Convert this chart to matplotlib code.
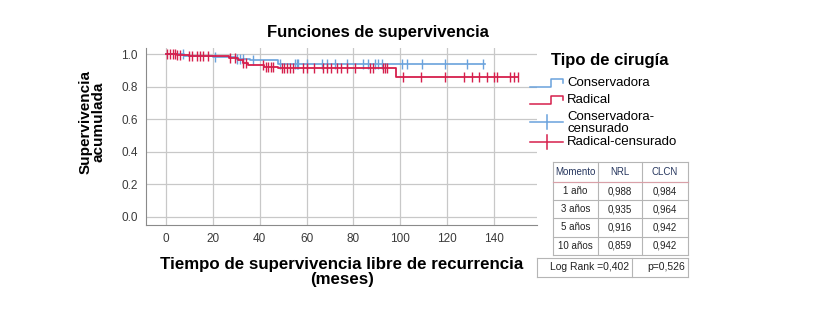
import numpy as np
import matplotlib
matplotlib.use("Agg")
import matplotlib.pyplot as plt
from matplotlib.lines import Line2D

plt.rcParams['font.family'] = ['Liberation Sans', 'DejaVu Sans']

# Kaplan-Meier steps (time in months, cumulative survival)
cons_times = [0, 8, 20, 30, 36, 48, 136]
cons_surv = [1.0, 0.992, 0.984, 0.975, 0.964, 0.942, 0.942]
rad_times = [0, 5, 10, 27, 31, 33, 35, 42, 48, 98, 150]
rad_surv = [1.0, 0.994, 0.988, 0.976, 0.964, 0.950, 0.935, 0.925, 0.916, 0.859, 0.859]

# censored observations
cons_cens = [7.5, 21.0, 30.2, 31.7, 33.1, 37.3, 48.7, 55.1, 55.8, 56.5, 60.1, 66.5,
             68.6, 72.1, 77.1, 84.2, 86.3, 89.2, 90.6, 92.0, 100.5, 102.7, 109.1,
             119.0, 128.2, 135.3]
rad_cens = [0.7, 1.8, 3.0, 4.0, 5.0, 6.1, 10.1, 11.1, 13.2, 14.6, 16.0, 18.2, 27.4,
            29.5, 33.1, 34.2, 41.6, 42.7, 43.7, 44.7, 45.9, 49.4, 50.4, 51.5, 52.9,
            54.1, 58.6, 60.1, 63.2, 66.9, 68.6, 70.3, 72.8, 74.5, 77.4, 80.7, 87.0,
            88.2, 92.4, 93.4, 94.4, 101.2, 108.6, 119.0, 127.1, 130.4, 133.6, 136.8,
            139.9, 141.3, 146.7, 148.4, 150.2]

# summary table
tab_header = ["Momento", "NRL", "CLCN"]
tab_moment = ["1 año", "3 años", "5 años", "10 años"]
tab_nrl = ["0,988", "0,935", "0,916", "0,859"]
tab_clcn = ["0,984", "0,964", "0,942", "0,942"]
logrank_txt = ["Log Rank =0,402", "p=0,526"]

legend_labels = ["Conservadora", "Radical", "Conservadora-\ncensurado", "Radical-censurado"]

BLUE = '#6aa2dc'
RED = '#d61f4c'

W, H = 822, 309
fig = plt.figure(figsize=(8.22, 3.09), dpi=100)


def fx(px):
    return px / W


def fy(py):
    return 1 - py / H


ax = fig.add_axes([fx(146), fy(225), fx(537) - fx(146), fy(48) - fy(225)])


def surv_at(times, surv, t):
    idx = np.searchsorted(times, t, side='right') - 1
    return np.array(surv)[idx]


ax.step(cons_times, cons_surv, where='post', color=BLUE, lw=1.2, zorder=3)
ax.plot(cons_cens, surv_at(cons_times, cons_surv, cons_cens), ls='none', marker='|',
        ms=7, mew=1.0, color=BLUE, zorder=3)
ax.step(rad_times, rad_surv, where='post', color=RED, lw=1.3, zorder=4)
ax.plot(rad_cens, surv_at(rad_times, rad_surv, rad_cens), ls='none', marker='|',
        ms=7, mew=1.0, color=RED, zorder=4)

ax.set_xlim(-8.4, 158.2)
ax.set_ylim(-0.05, 1.04)
ax.set_xticks(np.arange(0, 141, 20))
ax.set_yticks(np.arange(0, 1.01, 0.2))
ax.yaxis.set_major_formatter(matplotlib.ticker.FormatStrFormatter('%.1f'))
ax.grid(True, color='#c8c8c8', lw=0.9)
ax.set_axisbelow(True)
for s in ['top', 'right']:
    ax.spines[s].set_visible(False)
for s in ['left', 'bottom']:
    ax.spines[s].set_color('#8a8a8a')
ax.tick_params(length=0, labelsize=8.5, labelcolor='#3a3a3a', pad=6)

fig.text(fx(378), fy(33), "Funciones de supervivencia", ha='center', va='center',
         fontsize=12, fontweight='bold')
fig.text(fx(92), fy(122), "Supervivencia\nacumulada", ha='center', va='center',
         rotation=90, fontsize=11, fontweight='bold', linespacing=0.95)
fig.text(fx(342), fy(272), "Tiempo de supervivencia libre de recurrencia\n(meses)",
         ha='center', va='center', fontsize=12.2, fontweight='bold', linespacing=0.95)

# legend
fig.text(fx(551), fy(60), "Tipo de cirugía", ha='left', va='center', fontsize=12,
         fontweight='bold')
leg_y = [83, 100, 122, 142]
leg_txt_y = [83, 100, 123, 142]
for i, (lab, col) in enumerate(zip(legend_labels, [BLUE, RED, BLUE, RED])):
    y = leg_y[i]
    if i < 2:
        xs = [530, 551, 551, 563, 563]
        ys = [y + 4, y + 4, y - 4, y - 4, y]
        fig.add_artist(Line2D([fx(v) for v in xs], [fy(v) for v in ys], color=col,
                              lw=1.1, transform=fig.transFigure))
    else:
        fig.add_artist(Line2D([fx(530), fx(563)], [fy(y), fy(y)], color=col, lw=1.1,
                              transform=fig.transFigure))
        fig.add_artist(Line2D([fx(547), fx(547)], [fy(y - 7), fy(y + 7)], color=col,
                              lw=1.1, transform=fig.transFigure))
    fig.text(fx(567), fy(leg_txt_y[i]), lab, ha='left', va='center', fontsize=9.5,
             linespacing=0.9)

# table
col_x = [553, 598, 642, 688]
row_y = [162, 182, 200, 218, 237, 255]
tcol = '#b5b5b5'
for x in col_x:
    fig.add_artist(Line2D([fx(x), fx(x)], [fy(row_y[0]), fy(row_y[-1])], color=tcol,
                          lw=0.8, transform=fig.transFigure))
for y in row_y:
    fig.add_artist(Line2D([fx(col_x[0]), fx(col_x[-1])], [fy(y), fy(y)], color=tcol,
                          lw=0.8, transform=fig.transFigure))
fig.add_artist(Line2D([fx(col_x[0]), fx(col_x[-1])], [fy(row_y[1]), fy(row_y[1])],
                      color='#d9a0a8', lw=0.8, transform=fig.transFigure))
cx = [(col_x[i] + col_x[i + 1]) / 2 for i in range(3)]
for j, h in enumerate(tab_header):
    fig.text(fx(cx[j]), fy((row_y[0] + row_y[1]) / 2), h, ha='center', va='center',
             fontsize=7, color='#26365e')
for i in range(len(tab_moment)):
    yc = fy((row_y[i + 1] + row_y[i + 2]) / 2)
    for j, v in enumerate([tab_moment[i], tab_nrl[i], tab_clcn[i]]):
        fig.text(fx(cx[j]), yc, v, ha='center', va='center', fontsize=7, color='#222222')

# log rank row
lr_x = [537, 632, 688]
lr_y = [258, 277]
for x in lr_x:
    fig.add_artist(Line2D([fx(x), fx(x)], [fy(lr_y[0]), fy(lr_y[1])], color=tcol,
                          lw=0.8, transform=fig.transFigure))
for y in lr_y:
    fig.add_artist(Line2D([fx(lr_x[0]), fx(lr_x[-1])], [fy(y), fy(y)], color=tcol,
                          lw=0.8, transform=fig.transFigure))
fig.text(fx(629), fy(267), logrank_txt[0], ha='right', va='center', fontsize=7.5,
         color='#222222')
fig.text(fx(685), fy(267), logrank_txt[1], ha='right', va='center', fontsize=7.5,
         color='#222222')

fig.savefig("out.png", dpi=100)
